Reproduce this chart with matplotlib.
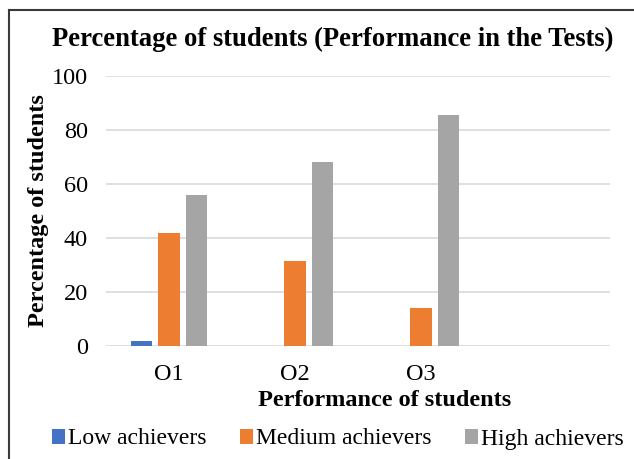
import numpy as np
import matplotlib
matplotlib.use('Agg')
import matplotlib.pyplot as plt
from matplotlib.lines import Line2D

categories = ['O1', 'O2', 'O3', '']
series_names = ['Low achievers', 'Medium achievers', 'High achievers']
low = [2, 0, 0, 0]
medium = [42, 31.5, 14, 0]
high = [56, 68, 85.5, 0]
yticks = [0, 20, 40, 60, 80, 100]

colors = ['#4472C4', '#ED7D31', '#A5A5A5']

plt.rcParams['font.family'] = ['Liberation Serif', 'DejaVu Serif']

fig = plt.figure(figsize=(6.34, 4.59), dpi=100)
ax = fig.add_axes([106 / 634, 1 - 346 / 459, (610 - 106) / 634, (346 - 76) / 459])

x = np.arange(len(categories))
offset = 0.218
width = 0.172
for i, (vals, name) in enumerate(zip([low, medium, high], series_names)):
    ax.bar(x + (i - 1) * offset, vals, width, color=colors[i], label=name, zorder=3)

ax.set_xlim(-0.5, len(categories) - 0.5)
ax.set_ylim(0, 100)
ax.set_yticks(yticks)
ax.set_xticks(x)
ax.set_xticklabels(categories)
ax.tick_params(axis='both', length=0, labelsize=17.5, pad=13)
ax.grid(axis='y', color='#D9D9D9', lw=1.2, zorder=0)
for s in ax.spines.values():
    s.set_visible(False)

ax.set_xlabel('Performance of students', fontsize=17.5, fontweight='bold')
ax.xaxis.set_label_coords(0.552, -0.2)
ax.xaxis.label.set_va('center')
ax.set_ylabel('Percentage of students', fontsize=17.5, fontweight='bold', labelpad=2)
fig.text(0.524, 1 - 39 / 459, 'Percentage of students (Performance in the Tests)',
         fontsize=19.2, fontweight='bold', ha='center', va='center')

fig.legend(loc='center', bbox_to_anchor=(0.533, 1 - 439 / 459), ncol=3, frameon=False,
           fontsize=17, handlelength=0.55, handleheight=0.6, handletextpad=0.15,
           columnspacing=1.4, borderpad=0, borderaxespad=0)

# outer frame (top and left edges visible)
fig.add_artist(Line2D([9 / 634, 1], [1 - 10 / 459, 1 - 10 / 459], transform=fig.transFigure,
                      color='#3a3a3a', lw=1.5))
fig.add_artist(Line2D([9 / 634, 9 / 634], [0, 1 - 10 / 459], transform=fig.transFigure,
                      color='#3a3a3a', lw=1.5))

plt.savefig('out.png', dpi=100)
